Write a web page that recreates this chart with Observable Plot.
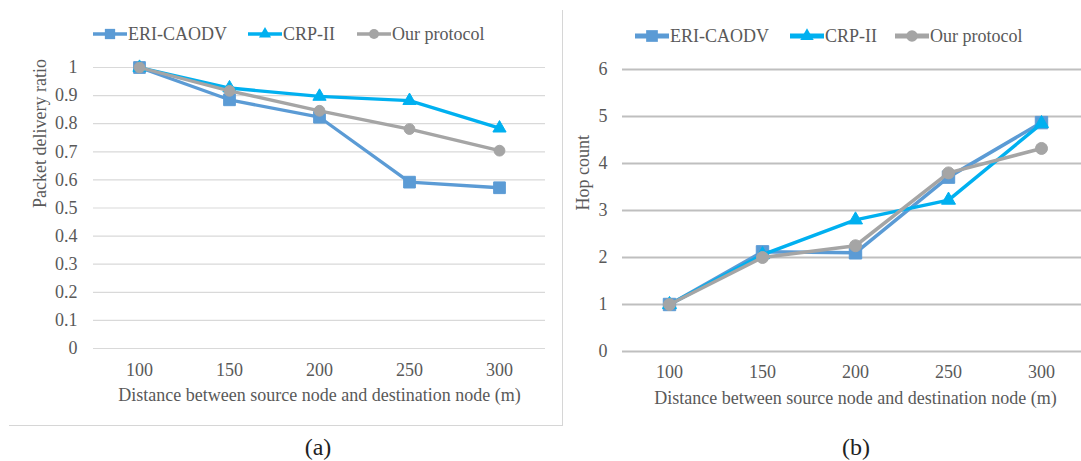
<!DOCTYPE html>
<html><head><meta charset="utf-8">
<script src="https://cdn.jsdelivr.net/npm/d3@7"></script>
<script src="https://cdn.jsdelivr.net/npm/@observablehq/plot@0.6"></script>
<style>
html,body{margin:0;padding:0;background:#fff;overflow:hidden;}
#wrap{position:relative;width:1081px;height:461px;overflow:hidden;font-family:"Liberation Serif",serif;color:#595959;background:#fff;}
#wrap svg.plotsvg{position:absolute;top:0;}
#wrap svg.plotsvg text{font-family:"Liberation Serif",serif;}
.panelbox{position:absolute;left:9px;top:10px;width:553px;height:415px;border-right:1.5px solid #d6d6d6;border-bottom:1.5px solid #d6d6d6;pointer-events:none;}
.leg{position:absolute;display:flex;align-items:center;font-size:18px;white-space:nowrap;line-height:1;transform:translateY(-50%);}
.leg svg{display:block;margin-right:1px;}
.cap{position:absolute;font-size:24px;color:#222;transform:translate(-50%,-50%);line-height:1;}
</style></head><body><div id="wrap"></div>
<script>
// ---- data ----
const distances = [100, 150, 200, 250, 300];
const seriesNames = ["ERI-CAODV", "CRP-II", "Our protocol"];
const pdrERI = [1.0, 0.885, 0.823, 0.592, 0.572];
const pdrCRP = [1.0, 0.927, 0.897, 0.882, 0.784];
const pdrOur = [1.0, 0.917, 0.846, 0.781, 0.704];
const hopERI = [1, 2.12, 2.1, 3.71, 4.87];
const hopCRP = [1, 2.06, 2.8, 3.22, 4.85];
const hopOur = [1, 2.0, 2.25, 3.8, 4.32];
const pdrTicks = [0, 0.1, 0.2, 0.3, 0.4, 0.5, 0.6, 0.7, 0.8, 0.9, 1];
const hopTicks = [0, 1, 2, 3, 4, 5, 6];
const xTitle = "Distance between source node and destination node (m)";
const yTitleA = "Packet delivery ratio";
const yTitleB = "Hop count";
const captions = ["(a)", "(b)"];

// ---- styles ----
const seriesColors = ["#5b9bd5", "#00b0f0", "#a5a5a5"];
const seriesSymbols = ["square", "triangle", "circle"];
const FONT = '"Liberation Serif", serif';

const wrap = document.getElementById("wrap");

function makePanel(cfg) {
  const marks = [
    Plot.gridY(cfg.yTicks, {stroke: cfg.gridColor, strokeOpacity: 1, strokeWidth: cfg.gridWidth}),
    Plot.axisY(cfg.yTicks, {tickSize: 0, tickPadding: cfg.tickPadY, tickFormat: d => String(d), label: null, fill: "#595959", fontFamily: FONT, fontSize: 18}),
    Plot.axisX({tickSize: 0, tickPadding: cfg.tickPadX, label: null, fill: "#595959", fontFamily: FONT, fontSize: 18}),
    Plot.text([xTitle], {text: d => d, frameAnchor: "bottom", dy: cfg.xTitleDy, lineAnchor: "middle", fill: "#595959", fontSize: 18, fontFamily: FONT}),
    Plot.text([cfg.yTitle], {text: d => d, frameAnchor: "left", dx: cfg.yTitleDx, rotate: -90, lineAnchor: "middle", fill: "#595959", fontSize: 18, fontFamily: FONT})
  ];
  seriesNames.forEach((s, i) => {
    const rows = distances.map((d, j) => ({series: s, x: d, y: cfg.values[i][j]}));
    marks.push(Plot.line(rows, {x: "x", y: "y", stroke: seriesColors[i], strokeWidth: cfg.lineWidth, strokeLinejoin: "round"}));
    marks.push(Plot.dot(rows, {x: "x", y: "y", symbol: seriesSymbols[i], r: cfg.r[i], fill: seriesColors[i], stroke: seriesColors[i], strokeWidth: 1}));
  });
  const svg = Plot.plot({
    width: cfg.width, height: cfg.height,
    marginLeft: cfg.mL, marginRight: cfg.mR, marginTop: cfg.mT, marginBottom: cfg.mB,
    x: {type: "point", domain: distances, padding: 0.5},
    y: {domain: cfg.yDomain},
    style: {fontFamily: FONT, fontSize: "18px", color: "#595959", background: "transparent", overflow: "visible"},
    marks
  });
  svg.classList.add("plotsvg");
  svg.style.left = cfg.left + "px";
  wrap.appendChild(svg);
}

makePanel({
  values: [pdrERI, pdrCRP, pdrOur], yDomain: [0, 1], yTicks: pdrTicks, yTitle: yTitleA,
  left: 0, width: 563, height: 461, mL: 93, mR: 18, mT: 67, mB: 113,
  gridColor: "#d9d9d9", gridWidth: 1.2, lineWidth: 3.3, r: [6.6, 4.9, 5.4],
  tickPadY: 16, tickPadX: 15, xTitleDy: 47, yTitleDx: -53
});
makePanel({
  values: [hopERI, hopCRP, hopOur], yDomain: [0, 6], yTicks: hopTicks, yTitle: yTitleB,
  left: 563, width: 530, height: 461, mL: 59, mR: 5, mT: 69, mB: 110,
  gridColor: "#bfbfbf", gridWidth: 2, lineWidth: 3.5, r: [7, 5.2, 6],
  tickPadY: 15, tickPadX: 14, xTitleDy: 47, yTitleDx: -39
});

// panel frame of (a)
const box = document.createElement("div");
box.className = "panelbox";
wrap.appendChild(box);

// legends
function swatch(i, lineW, r) {
  const w = 34, h = 18;
  const sym = d3.symbol().type({square: d3.symbolSquare, triangle: d3.symbolTriangle, circle: d3.symbolCircle}[seriesSymbols[i]]).size(Math.PI * r * r)();
  return `<svg width="${w}" height="${h}"><line x1="0" x2="${w}" y1="${h/2}" y2="${h/2}" stroke="${seriesColors[i]}" stroke-width="${lineW}"/>` +
    `<path d="${sym}" transform="translate(${w/2},${h/2})" fill="${seriesColors[i]}"/></svg>`;
}
const legendLayout = [
  {top: 34, lefts: [93, 248, 357], lineW: 3.3, r: [5.8, 4.5, 5]},
  {top: 36, lefts: [635, 790, 895], lineW: 5, r: [6.6, 5, 5.8]}
];
legendLayout.forEach(L => {
  seriesNames.forEach((s, i) => {
    const d = document.createElement("div");
    d.className = "leg";
    d.style.left = L.lefts[i] + "px";
    d.style.top = L.top + "px";
    d.innerHTML = swatch(i, L.lineW, L.r[i]) + `<span>${s}</span>`;
    wrap.appendChild(d);
  });
});

// captions
[[318, 447], [856, 447]].forEach((p, i) => {
  const c = document.createElement("div");
  c.className = "cap";
  c.style.left = p[0] + "px";
  c.style.top = p[1] + "px";
  c.textContent = captions[i];
  wrap.appendChild(c);
});
</script></body></html>
